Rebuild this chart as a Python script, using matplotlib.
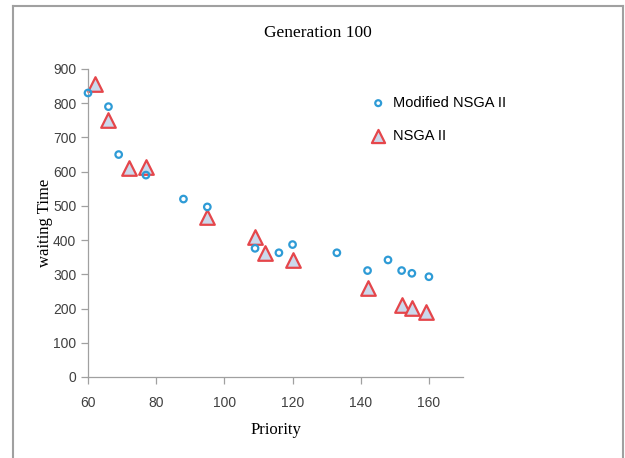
import matplotlib
matplotlib.use("Agg")
import matplotlib.pyplot as plt
from matplotlib.lines import Line2D

# Modified NSGA II (circles)
mod_x = [60, 66, 69, 77, 88, 95, 109, 116, 120, 133, 142, 148, 152, 155, 160]
mod_y = [830, 790, 650, 590, 520, 497, 376, 363, 387, 363, 311, 342, 311, 303, 293]

# NSGA II (triangles)
nsga_x = [62, 66, 72, 77, 95, 109, 112, 120, 142, 152, 155, 159]
nsga_y = [856, 751, 611, 615, 468, 410, 361, 342, 259, 210, 201, 191]

x_ticks = [60, 80, 100, 120, 140, 160]
y_ticks = [0, 100, 200, 300, 400, 500, 600, 700, 800, 900]

serif = ['Liberation Serif', 'DejaVu Serif']
sans = ['Liberation Sans', 'DejaVu Sans']

fig = plt.figure(figsize=(6.25, 4.58), dpi=100)
ax = fig.add_axes([88/625, 1-377/458, 375/625, (377-69)/458])

ax.scatter(mod_x, mod_y, s=22, facecolors='none', edgecolors='#2E9BD6',
           linewidths=1.6, label='Modified NSGA II', zorder=3, clip_on=False)
ax.scatter(nsga_x, nsga_y, s=110, marker='^', facecolors='#CBD9EC',
           edgecolors='#E5464B', linewidths=1.6, label='NSGA II', zorder=2, clip_on=False)

ax.set_xlim(60, 170)
ax.set_ylim(0, 900)
ax.set_xticks(x_ticks)
ax.set_yticks(y_ticks)

for s in ['top', 'right']:
    ax.spines[s].set_visible(False)
for s in ['left', 'bottom']:
    ax.spines[s].set_color('#A0A0A0')
    ax.spines[s].set_linewidth(0.9)
ax.tick_params(axis='both', colors='#A0A0A0', labelcolor='#404040', length=5, width=0.9)
ax.tick_params(axis='x', pad=9)
for lab in ax.get_xticklabels() + ax.get_yticklabels():
    lab.set_family(sans)
    lab.set_fontsize(10)

fig.text(318/625, 1-33/458, 'Generation 100', family=serif, fontsize=12.5,
         ha='center', va='center')
ax.set_xlabel('Priority', family=serif, fontsize=12, labelpad=8)
ax.set_ylabel('waiting Time', family=serif, fontsize=12, labelpad=0)

leg = ax.legend(loc='upper left', bbox_to_anchor=(0.70, 0.955), frameon=False,
                handletextpad=0.0, labelspacing=1.3, prop={'family': sans, 'size': 10.5},
                scatterpoints=1, markerscale=0.9)

# figure border (left, top, right)
c = '#A0A0A0'
fig.add_artist(Line2D([13/625, 13/625], [0, 1-6/458], color=c, lw=1.5, transform=fig.transFigure))
fig.add_artist(Line2D([13/625, 623/625], [1-6/458, 1-6/458], color=c, lw=1.5, transform=fig.transFigure))
fig.add_artist(Line2D([623/625, 623/625], [0, 1-6/458], color=c, lw=1.5, transform=fig.transFigure))

fig.savefig('out.png', dpi=100)
